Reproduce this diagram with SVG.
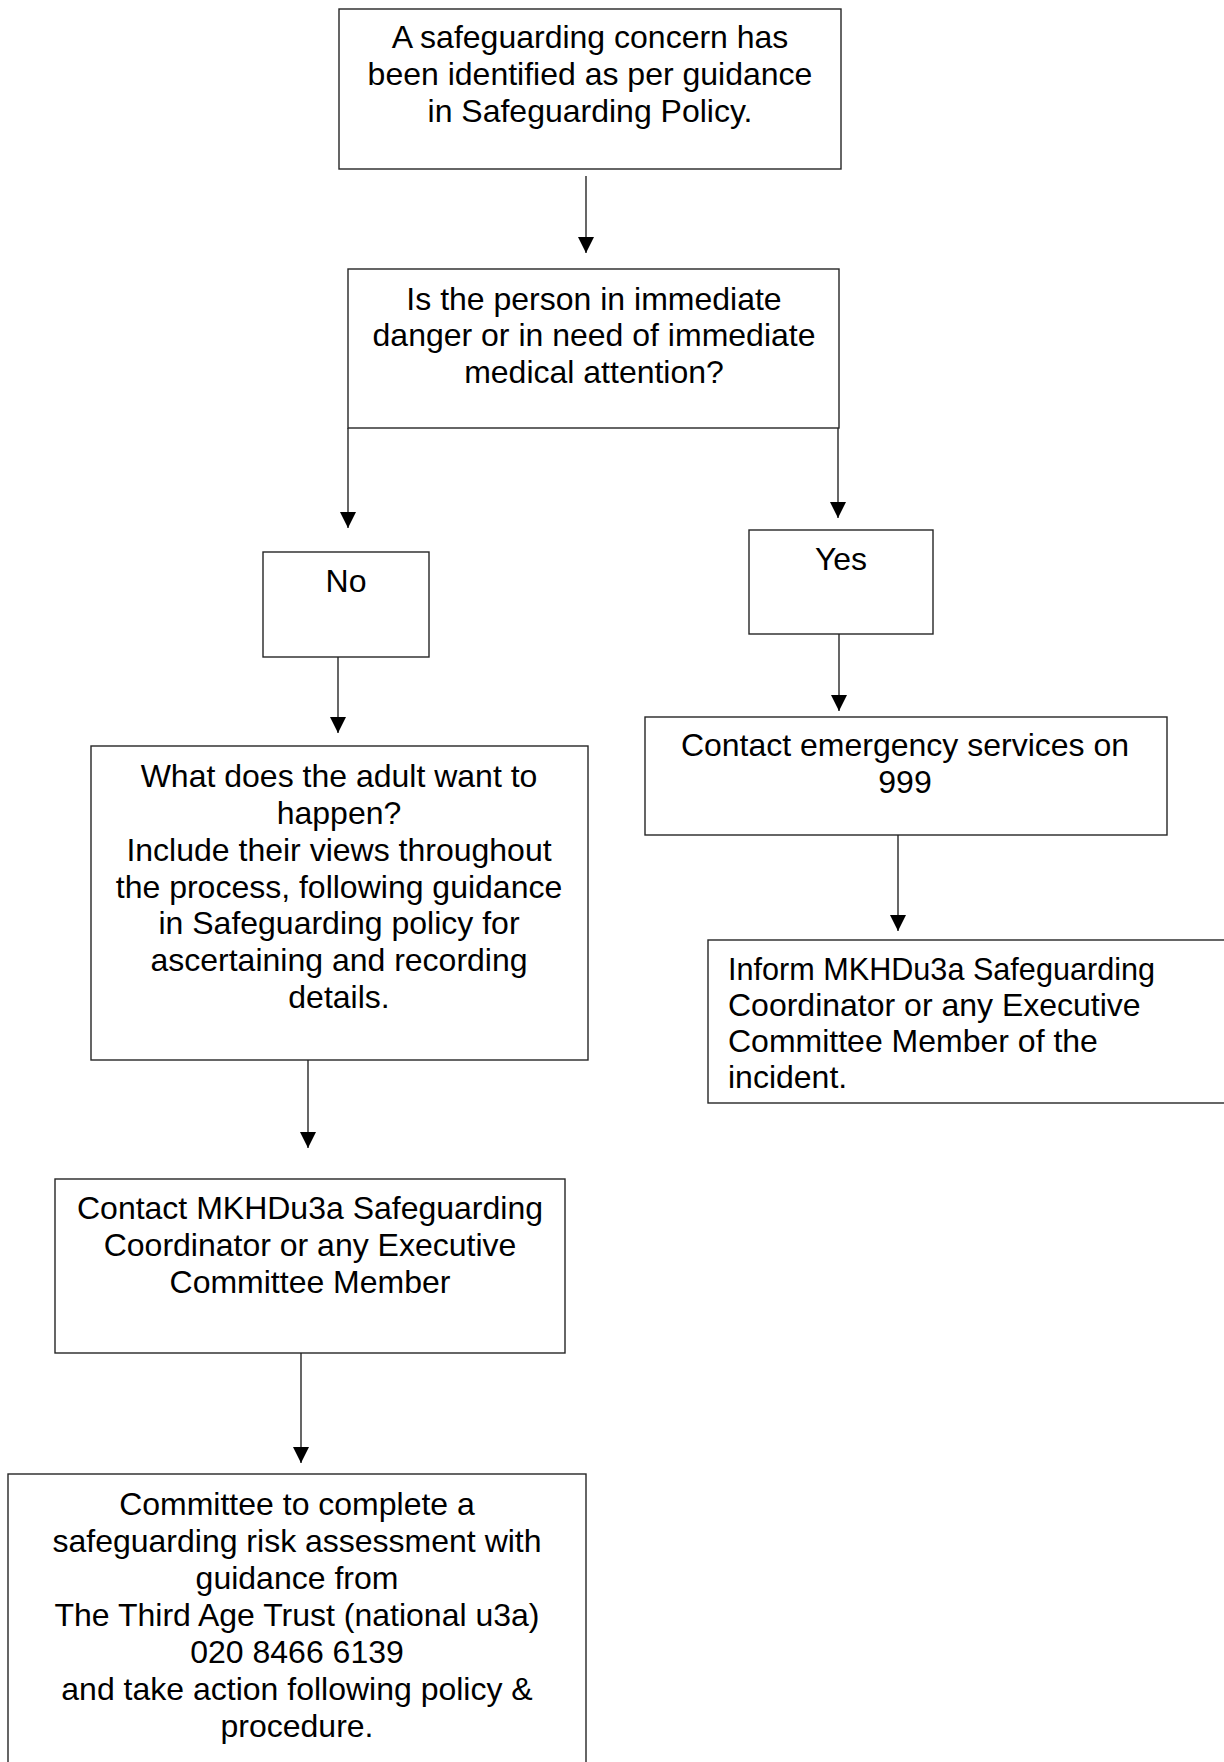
<svg xmlns="http://www.w3.org/2000/svg" width="1224" height="1762" viewBox="0 0 1224 1762">
<style>
.box{fill:#fff;stroke:#262626;stroke-width:1.4}
.t{font-family:"Liberation Sans",Arial,sans-serif;font-size:32px;fill:#000;text-anchor:middle}
.l{text-anchor:start}
.c{stroke:#262626;stroke-width:1.4;fill:none}
</style>
<defs>
<marker id="ah" markerUnits="userSpaceOnUse" markerWidth="16" markerHeight="16" refX="16" refY="8" orient="auto">
<path d="M0,0 L16,8 L0,16 z" fill="#000"/>
</marker>
</defs>
<rect width="1224" height="1762" fill="#fff"/>
<g id="connectors">
<line class="c" x1="586" y1="176" x2="586" y2="253" marker-end="url(#ah)"/>
<line class="c" x1="348" y1="428" x2="348" y2="528" marker-end="url(#ah)"/>
<line class="c" x1="838" y1="420" x2="838" y2="518" marker-end="url(#ah)"/>
<line class="c" x1="338" y1="656" x2="338" y2="733" marker-end="url(#ah)"/>
<line class="c" x1="839" y1="634" x2="839" y2="711" marker-end="url(#ah)"/>
<line class="c" x1="898" y1="835" x2="898" y2="931" marker-end="url(#ah)"/>
<line class="c" x1="308" y1="1060" x2="308" y2="1148" marker-end="url(#ah)"/>
<line class="c" x1="301" y1="1353" x2="301" y2="1463" marker-end="url(#ah)"/>
</g>
<g id="n1">
<rect class="box" x="339" y="9" width="502" height="160"/>
<text class="t" x="590" y="48">A safeguarding concern has</text>
<text class="t" x="590" y="85">been identified as per guidance</text>
<text class="t" x="590" y="122">in Safeguarding Policy.</text>
</g>
<g id="n2">
<rect class="box" x="348" y="269" width="491" height="159"/>
<text class="t" x="594" y="310">Is the person in immediate</text>
<text class="t" x="594" y="346">danger or in need of immediate</text>
<text class="t" x="594" y="383">medical attention?</text>
</g>
<g id="no">
<rect class="box" x="263" y="552" width="166" height="105"/>
<text class="t" x="346" y="592">No</text>
</g>
<g id="yes">
<rect class="box" x="749" y="530" width="184" height="104"/>
<text class="t" x="841" y="570">Yes</text>
</g>
<g id="adult">
<rect class="box" x="91" y="746" width="497" height="314"/>
<text class="t" x="339" y="787">What does the adult want to</text>
<text class="t" x="339" y="824">happen?</text>
<text class="t" x="339" y="861">Include their views throughout</text>
<text class="t" x="339" y="898">the process, following guidance</text>
<text class="t" x="339" y="934">in Safeguarding policy for</text>
<text class="t" x="339" y="971">ascertaining and recording</text>
<text class="t" x="339" y="1008">details.</text>
</g>
<g id="emergency">
<rect class="box" x="645" y="717" width="522" height="118"/>
<text class="t" x="905" y="756">Contact emergency services on</text>
<text class="t" x="905" y="793">999</text>
</g>
<g id="inform">
<rect class="box" x="708" y="940" width="530" height="163"/>
<text class="t l" x="728" y="980" textLength="427" lengthAdjust="spacingAndGlyphs">Inform MKHDu3a Safeguarding</text>
<text class="t l" x="728" y="1016">Coordinator or any Executive</text>
<text class="t l" x="728" y="1052">Committee Member of the</text>
<text class="t l" x="728" y="1088">incident.</text>
</g>
<g id="contact">
<rect class="box" x="55" y="1179" width="510" height="174"/>
<text class="t" x="310" y="1219">Contact MKHDu3a Safeguarding</text>
<text class="t" x="310" y="1256">Coordinator or any Executive</text>
<text class="t" x="310" y="1293">Committee Member</text>
</g>
<g id="committee">
<rect class="box" x="8" y="1474" width="578" height="300"/>
<text class="t" x="297" y="1515">Committee to complete a</text>
<text class="t" x="297" y="1552">safeguarding risk assessment with</text>
<text class="t" x="297" y="1589">guidance from</text>
<text class="t" x="297" y="1626">The Third Age Trust (national u3a)</text>
<text class="t" x="297" y="1663">020 8466 6139</text>
<text class="t" x="297" y="1700">and take action following policy &amp;</text>
<text class="t" x="297" y="1737">procedure.</text>
</g>
</svg>
